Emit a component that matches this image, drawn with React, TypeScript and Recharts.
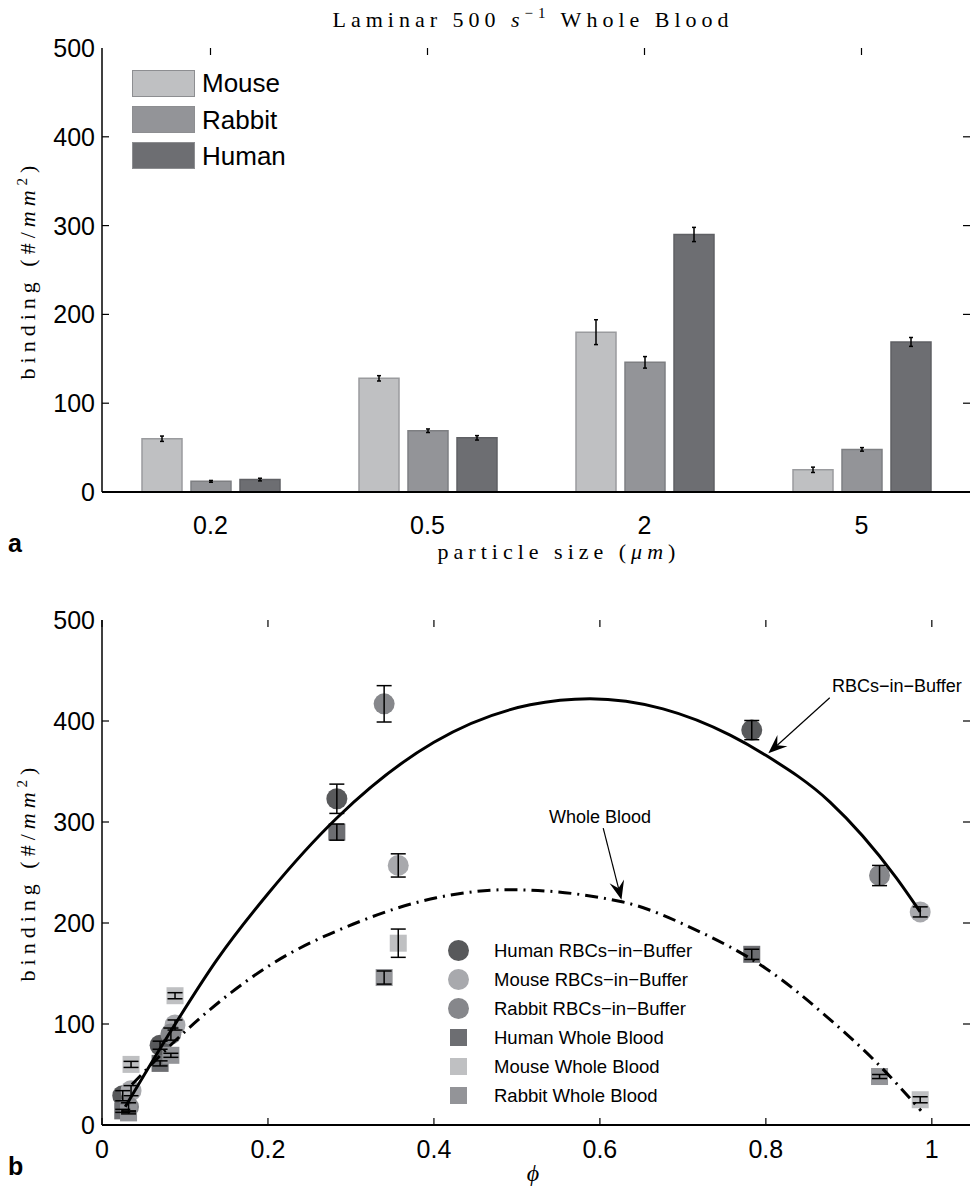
import {
  BarChart,
  Bar,
  ComposedChart,
  Scatter,
  Line,
  XAxis,
  YAxis,
  ErrorBar,
  Legend,
  ReferenceLine,
} from 'recharts'

const SANS = '"Liberation Sans", Arial, Helvetica, sans-serif'
const SERIF = '"Liberation Serif", "DejaVu Serif", serif'

// ---- panel a: binding vs particle size, whole blood ----
const PARTICLE_SIZES = ['0.2', '0.5', '2', '5']
const SPECIES = ['Mouse', 'Rabbit', 'Human']
const MOUSE_WB = [60, 128, 180, 25]
const MOUSE_WB_ERR = [3, 3, 14, 3]
const RABBIT_WB = [12, 69, 146, 48]
const RABBIT_WB_ERR = [1, 2, 6.5, 2]
const HUMAN_WB = [14, 61, 290, 169]
const HUMAN_WB_ERR = [1.5, 2.5, 8, 5]

const BINDING_TICKS = [0, 100, 200, 300, 400, 500]

// ---- panel b: binding vs phi ----
const PHI_HUMAN = [0.025, 0.07, 0.283, 0.783]
const PHI_MOUSE = [0.035, 0.088, 0.357, 0.986]
const PHI_RABBIT = [0.032, 0.083, 0.34, 0.937]

const HUMAN_RBC = [29, 79, 323, 391]
const HUMAN_RBC_ERR = [5, 4, 14.5, 9.5]
const MOUSE_RBC = [34, 99, 257, 211]
const MOUSE_RBC_ERR = [5, 5, 11.5, 5]
const RABBIT_RBC = [18, 90, 417, 247]
const RABBIT_RBC_ERR = [4, 6, 18, 10]

const PHI_TICKS = [0, 0.2, 0.4, 0.6, 0.8, 1]

// fitted curves
const RBC_FIT_PHI = [0.028, 0.086, 0.138, 0.2, 0.283, 0.4, 0.516, 0.588, 0.676, 0.757, 0.8, 0.877, 0.957, 0.986]
const RBC_FIT_V = [18, 97, 163, 229, 304, 379, 416, 422, 412, 386, 366, 320, 245, 211]
const WB_FIT_PHI = [0.036, 0.106, 0.2, 0.303, 0.403, 0.49, 0.6265, 0.716, 0.8, 0.882, 0.932, 0.987]
const WB_FIT_V = [40, 97, 157, 199, 225, 233, 221, 193, 155, 101, 63, 14]

const MOUSE_COLOR = '#bfc0c2'
const RABBIT_COLOR = '#939498'
const HUMAN_COLOR = '#6d6e72'

const barData = PARTICLE_SIZES.map((size, i) => ({
  size,
  mouse: MOUSE_WB[i],
  mouseErr: MOUSE_WB_ERR[i],
  rabbit: RABBIT_WB[i],
  rabbitErr: RABBIT_WB_ERR[i],
  human: HUMAN_WB[i],
  humanErr: HUMAN_WB_ERR[i],
}))

const toPoints = (phi: number[], v: number[], err: number[]) =>
  phi.map((p, i) => ({ phi: p, v: v[i], err: err[i] }))

const scatterSeries = [
  { name: 'Human RBCs\u2212in\u2212Buffer', data: toPoints(PHI_HUMAN, HUMAN_RBC, HUMAN_RBC_ERR), color: '#58595b', kind: 'circle' },
  { name: 'Mouse RBCs\u2212in\u2212Buffer', data: toPoints(PHI_MOUSE, MOUSE_RBC, MOUSE_RBC_ERR), color: '#a8a9ad', kind: 'circle' },
  { name: 'Rabbit RBCs\u2212in\u2212Buffer', data: toPoints(PHI_RABBIT, RABBIT_RBC, RABBIT_RBC_ERR), color: '#86878b', kind: 'circle' },
  { name: 'Human Whole Blood', data: toPoints(PHI_HUMAN, HUMAN_WB, HUMAN_WB_ERR), color: HUMAN_COLOR, kind: 'square' },
  { name: 'Mouse Whole Blood', data: toPoints(PHI_MOUSE, MOUSE_WB, MOUSE_WB_ERR), color: MOUSE_COLOR, kind: 'square' },
  { name: 'Rabbit Whole Blood', data: toPoints(PHI_RABBIT, RABBIT_WB, RABBIT_WB_ERR), color: RABBIT_COLOR, kind: 'square' },
]

const rbcFit = RBC_FIT_PHI.map((p, i) => ({ phi: p, v: RBC_FIT_V[i] }))
const wbFit = WB_FIT_PHI.map((p, i) => ({ phi: p, v: WB_FIT_V[i] }))

// plot box edges inside each chart's own svg
const PLOT_LEFT = 102
const PLOT_RIGHT = 970
const A_TOP = 48
const A_BOTTOM = 492
const B_TOP = 40
const B_BOTTOM = 545

function makeYTick(top: number) {
  return (props: any) => {
    const { y, payload } = props
    const onEdge = Math.abs(y - top) < 1
    return (
      <g>
        {!onEdge && <line x1={PLOT_LEFT} x2={PLOT_LEFT + 7} y1={y} y2={y} stroke="#000" strokeWidth={1.2} />}
        {!onEdge && <line x1={PLOT_RIGHT} x2={PLOT_RIGHT - 7} y1={y} y2={y} stroke="#000" strokeWidth={1.2} />}
        <text x={PLOT_LEFT - 7} y={y} dy="0.36em" textAnchor="end" fontSize={25} fontFamily={SANS} fill="#000">
          {payload.value}
        </text>
      </g>
    )
  }
}

function makeXTick(top: number, bottom: number, labelDy: number, bottomTicks: boolean) {
  return (props: any) => {
    const { x, payload } = props
    return (
      <g>
        {bottomTicks && <line x1={x} x2={x} y1={bottom} y2={bottom - 7} stroke="#000" strokeWidth={1.2} />}
        <line x1={x} x2={x} y1={top} y2={top + 7} stroke="#000" strokeWidth={1.2} />
        <text x={x} y={bottom + labelDy} dy="0.36em" textAnchor="middle" fontSize={25} fontFamily={SANS} fill="#000">
          {String(payload.value)}
        </text>
      </g>
    )
  }
}

function BarLegend(props: any) {
  const rows = ((props.payload || []) as any[])
    .slice()
    .sort((a, b) => SPECIES.indexOf(a.value) - SPECIES.indexOf(b.value))
  return (
    <div>
      {rows.map((r) => (
        <div key={r.value} style={{ display: 'flex', alignItems: 'center', height: 36.4 }}>
          <div
            style={{
              width: 63,
              height: 27,
              boxSizing: 'border-box',
              background: r.color,
              border: '1.5px solid #8d8e91',
            }}
          />
          <span style={{ marginLeft: 7, fontFamily: SANS, fontSize: 26, color: '#000', lineHeight: '26px' }}>
            {r.value}
          </span>
        </div>
      ))}
    </div>
  )
}

function ScatterLegend() {
  return (
    <div>
      {scatterSeries.map((s) => (
        <div key={s.name} style={{ display: 'flex', alignItems: 'center', height: 29 }}>
          <div style={{ width: 22, display: 'flex', justifyContent: 'center' }}>
            <div
              style={{
                width: s.kind === 'circle' ? 21 : 17,
                height: s.kind === 'circle' ? 21 : 17,
                borderRadius: s.kind === 'circle' ? '50%' : 0,
                background: s.color,
              }}
            />
          </div>
          <span style={{ marginLeft: 25, fontFamily: SANS, fontSize: 18.5, color: '#000', whiteSpace: 'nowrap' }}>
            {s.name}
          </span>
        </div>
      ))}
    </div>
  )
}

const markerShape = (kind: string, color: string) => (p: any) =>
  kind === 'circle' ? (
    <circle cx={p.cx} cy={p.cy} r={10.5} fill={color} />
  ) : (
    <rect x={p.cx - 8.5} y={p.cy - 8.5} width={17} height={17} fill={color} />
  )

const noMarker = () => <g />

const arrowShape = (p: any) => {
  const { x1, y1, x2, y2 } = p
  const ang = Math.atan2(y2 - y1, x2 - x1)
  const len = 19
  const half = 7.5
  const notch = 12
  const bx = x2 - len * Math.cos(ang)
  const by = y2 - len * Math.sin(ang)
  const nx = x2 - notch * Math.cos(ang)
  const ny = y2 - notch * Math.sin(ang)
  const px = -Math.sin(ang) * half
  const py = Math.cos(ang) * half
  return (
    <g>
      <line x1={x1} y1={y1} x2={nx} y2={ny} stroke="#000" strokeWidth={1.2} />
      <polygon points={`${x2},${y2} ${bx + px},${by + py} ${nx},${ny} ${bx - px},${by - py}`} fill="#000" />
    </g>
  )
}

export default function App() {
  return (
    <div style={{ position: 'absolute', left: 0, top: 0, width: 972, height: 1190, background: '#fff' }}>
      <div style={{ position: 'absolute', left: 0, top: 0 }}>
        <BarChart
          width={972}
          height={580}
          data={barData}
          margin={{ top: A_TOP, right: 2, bottom: 38, left: 0 }}
          barSize={40}
          barGap={9}
        >
          <XAxis
            dataKey="size"
            height={50}
            axisLine={{ stroke: '#000', strokeWidth: 2 }}
            tickLine={false}
            interval={0}
            tick={makeXTick(A_TOP, A_BOTTOM, 33, false)}
          />
          <XAxis xAxisId="top" dataKey="size" orientation="top" height={0} tick={false} tickLine={false} axisLine={{ stroke: '#000', strokeWidth: 1.5 }} />
          <YAxis
            width={PLOT_LEFT}
            domain={[0, 500]}
            ticks={BINDING_TICKS}
            interval={0}
            axisLine={{ stroke: '#000', strokeWidth: 1.5 }}
            tickLine={false}
            tick={makeYTick(A_TOP)}
          />
          <YAxis yAxisId="right" orientation="right" width={0} domain={[0, 500]} tick={false} tickLine={false} axisLine={{ stroke: '#000', strokeWidth: 1.5 }} />
          <Legend
            layout="vertical"
            align="center"
            verticalAlign="middle"
            content={<BarLegend />}
            wrapperStyle={{ left: 132, top: 65, width: 200, height: 120 }}
          />
          <Bar dataKey="mouse" name="Mouse" fill={MOUSE_COLOR} stroke="#9a9b9e" strokeWidth={1.5} isAnimationActive={false}>
            <ErrorBar dataKey="mouseErr" width={2} stroke="#000" strokeWidth={1.5} />
          </Bar>
          <Bar dataKey="rabbit" name="Rabbit" fill={RABBIT_COLOR} stroke="#7e7f82" strokeWidth={1.5} isAnimationActive={false}>
            <ErrorBar dataKey="rabbitErr" width={2} stroke="#000" strokeWidth={1.5} />
          </Bar>
          <Bar dataKey="human" name="Human" fill={HUMAN_COLOR} stroke="#5f6064" strokeWidth={1.5} isAnimationActive={false}>
            <ErrorBar dataKey="humanErr" width={2} stroke="#000" strokeWidth={1.5} />
          </Bar>
        </BarChart>
      </div>

      <div style={{ position: 'absolute', left: 0, top: 580 }}>
        <ComposedChart width={972} height={610} margin={{ top: B_TOP, right: 2, bottom: 15, left: 0 }}>
          <XAxis
            dataKey="phi"
            type="number"
            domain={[0, 1.046]}
            ticks={PHI_TICKS}
            interval={0}
            height={50}
            axisLine={{ stroke: '#000', strokeWidth: 2 }}
            tickLine={false}
            tick={makeXTick(B_TOP, B_BOTTOM, 24, true)}
          />
          <XAxis xAxisId="top" type="number" domain={[0, 1.046]} orientation="top" height={0} tick={false} tickLine={false} axisLine={{ stroke: '#000', strokeWidth: 1.5 }} />
          <YAxis
            dataKey="v"
            type="number"
            width={PLOT_LEFT}
            domain={[0, 500]}
            ticks={BINDING_TICKS}
            interval={0}
            axisLine={{ stroke: '#000', strokeWidth: 1.5 }}
            tickLine={false}
            tick={makeYTick(B_TOP)}
          />
          <YAxis yAxisId="right" orientation="right" width={0} domain={[0, 500]} tick={false} tickLine={false} axisLine={{ stroke: '#000', strokeWidth: 1.5 }} />
          <Legend
            layout="vertical"
            align="center"
            verticalAlign="middle"
            content={<ScatterLegend />}
            wrapperStyle={{ left: 447, top: 356, width: 260, height: 180 }}
          />
          {scatterSeries.map((s) => (
            <Scatter
              key={s.name}
              name={s.name}
              data={s.data}
              dataKey="v"
              fill={s.color}
              shape={markerShape(s.kind, s.color)}
              isAnimationActive={false}
            />
          ))}
          {/* error bars drawn in a second pass so they sit on top of every marker */}
          {scatterSeries.map((s) => (
            <Scatter
              key={s.name + '-err'}
              data={s.data}
              dataKey="v"
              shape={noMarker}
              legendType="none"
              isAnimationActive={false}
              zIndex={800}
            >
              <ErrorBar dataKey="err" direction="y" width={7.5} stroke="#000" strokeWidth={1.5} zIndex={800} />
            </Scatter>
          ))}
          <Line
            data={rbcFit}
            dataKey="v"
            type="monotone"
            stroke="#000"
            strokeWidth={3}
            dot={false}
            legendType="none"
            isAnimationActive={false}
            zIndex={700}
          />
          <Line
            data={wbFit}
            dataKey="v"
            type="monotone"
            stroke="#000"
            strokeWidth={3}
            strokeDasharray="13 6 2 6"
            dot={false}
            legendType="none"
            isAnimationActive={false}
            zIndex={700}
          />
          <ReferenceLine
            segment={[
              { x: 0.877, y: 423 },
              { x: 0.803, y: 368 },
            ]}
            shape={arrowShape}
          />
          <ReferenceLine
            segment={[
              { x: 0.604, y: 294 },
              { x: 0.626, y: 223 },
            ]}
            shape={arrowShape}
          />
        </ComposedChart>
      </div>

      <svg
        width={972}
        height={1190}
        style={{ position: 'absolute', left: 0, top: 0, pointerEvents: 'none' }}
      >
        <text x={533} y={27} textAnchor="middle" fontFamily={SERIF} fontSize={22} letterSpacing={5} fill="#000">
          {'Laminar 500 '}
          <tspan fontStyle="italic">s</tspan>
          <tspan dy={-9} fontSize={15}>{'\u22121'}</tspan>
          <tspan dy={9}>{' Whole Blood'}</tspan>
        </text>
        <text transform="translate(35,270) rotate(-90)" textAnchor="middle" fontFamily={SERIF} fontSize={22} letterSpacing={5} fill="#000">
          {'binding (#/'}
          <tspan fontStyle="italic">mm</tspan>
          <tspan dy={-8} fontSize={15}>2</tspan>
          <tspan dy={8}>)</tspan>
        </text>
        <text x={559} y={559} textAnchor="middle" fontFamily={SERIF} fontSize={22} letterSpacing={5} fill="#000">
          {'particle size ('}
          <tspan fontStyle="italic">{'\u03bcm'}</tspan>
          {')'}
        </text>
        <text x={8} y={552} fontFamily={SANS} fontSize={25} fontWeight="bold" fill="#000">a</text>

        <text transform="translate(35,872) rotate(-90)" textAnchor="middle" fontFamily={SERIF} fontSize={22} letterSpacing={5} fill="#000">
          {'binding (#/'}
          <tspan fontStyle="italic">mm</tspan>
          <tspan dy={-8} fontSize={15}>2</tspan>
          <tspan dy={8}>)</tspan>
        </text>
        <text x={533} y={1181} textAnchor="middle" fontFamily={SERIF} fontSize={24} fontStyle="italic" fill="#000">
          {'\u03d5'}
        </text>
        <text x={8} y={1175} fontFamily={SANS} fontSize={25} fontWeight="bold" fill="#000">b</text>

        <text x={832} y={692} fontFamily={SANS} fontSize={18} fill="#000">{'RBCs\u2212in\u2212Buffer'}</text>
        <text x={549} y={823} fontFamily={SANS} fontSize={18} fill="#000">Whole Blood</text>
      </svg>
    </div>
  )
}
